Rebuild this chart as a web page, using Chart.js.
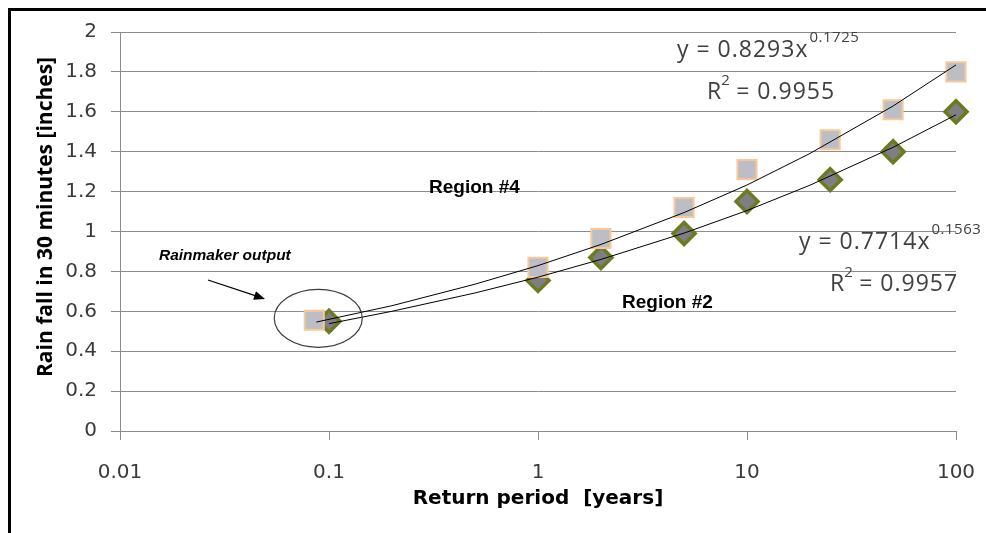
<!DOCTYPE html>
<html>
<head>
<meta charset="utf-8">
<script src="https://cdn.jsdelivr.net/npm/chart.js@4.4.1/dist/chart.umd.min.js"></script>
<style>
  html, body { margin: 0; padding: 0; background: #ffffff; }
  #wrap { width: 986px; height: 533px; position: relative; }
  canvas { display: block; }
</style>
</head>
<body>
<div id="wrap"><canvas id="c" width="986" height="533"></canvas></div>
<script>
// ---- data ----
const xTickValues = [0.01, 0.1, 1, 10, 100];
const xTickLabels = ['0.01', '0.1', '1', '10', '100'];
const yTickLabels = ['0', '0.2', '0.4', '0.6', '0.8', '1', '1.2', '1.4', '1.6', '1.8', '2'];

const region4Periods = [0.085, 1, 2, 5, 10, 25, 50, 100];
const region4Rain    = [0.555, 0.82, 0.965, 1.12, 1.31, 1.46, 1.61, 1.80];

const region2Periods = [0.1, 1, 2, 5, 10, 25, 50, 100];
const region2Rain    = [0.55, 0.755, 0.87, 0.99, 1.15, 1.26, 1.40, 1.60];

// trend lines (power fits drawn in the picture)
const trend4Periods = [0.087, 0.2, 0.5, 1, 2, 5, 10, 20, 50, 100];
const trend4Rain    = [0.546, 0.628, 0.736, 0.829, 0.935, 1.095, 1.233, 1.391, 1.629, 1.835];
const trend2Periods = [0.1, 0.2, 0.5, 1, 2, 5, 10, 20, 50, 100];
const trend2Rain    = [0.538, 0.600, 0.692, 0.771, 0.860, 0.992, 1.105, 1.232, 1.422, 1.585];

const toXY = (xs, ys) => xs.map((x, i) => ({ x: x, y: ys[i] }));

const GRID = '#8c8c8c';
const TICKC = '#3a3a3a';

const decorPlugin = {
  id: 'decor',
  beforeDraw(chart) {
    const ctx = chart.ctx;
    ctx.save();
    ctx.fillStyle = '#ffffff';
    ctx.fillRect(0, 0, chart.width, chart.height);
    ctx.restore();
  },
  afterDraw(chart) {
    const ctx = chart.ctx;
    const xs = chart.scales.x, ys = chart.scales.y;
    ctx.save();

    // outer frame (left and top edges visible)
    ctx.strokeStyle = '#000000';
    ctx.lineWidth = 3;
    ctx.beginPath();
    ctx.moveTo(9.5, 600);
    ctx.lineTo(9.5, 9.5);
    ctx.lineTo(1100, 9.5);
    ctx.stroke();

    // y axis title
    ctx.save();
    ctx.translate(46, 217);
    ctx.rotate(-Math.PI / 2);
    ctx.fillStyle = '#000000';
    ctx.font = 'bold 21px "Open Sans"';
    ctx.textAlign = 'center';
    ctx.textBaseline = 'middle';
    ctx.fillText('Rain fall in 30 minutes [inches]', 0, 0);
    ctx.restore();

    // equations
    ctx.fillStyle = '#404040';
    ctx.textAlign = 'left';
    ctx.textBaseline = 'alphabetic';
    const drawEq = (main, sup, x, y) => {
      ctx.font = '23px "Open Sans"';
      ctx.letterSpacing = '1px';
      ctx.fillText(main, x, y);
      const w = ctx.measureText(main).width;
      ctx.font = '15px "Open Sans"';
      ctx.letterSpacing = '0.5px';
      ctx.fillText(sup, x + w + 1, y - 15);
      ctx.letterSpacing = '0px';
    };
    const drawR2 = (val, x, y) => {
      ctx.font = '23px "Open Sans"';
      ctx.letterSpacing = '1px';
      ctx.fillText('R', x, y);
      const w = ctx.measureText('R').width;
      ctx.font = '15px "Open Sans"';
      ctx.fillText('2', x + w - 1, y - 14);
      ctx.font = '23px "Open Sans"';
      ctx.fillText(' = ' + val, x + w + 7, y);
      ctx.letterSpacing = '0px';
    };
    drawEq('y = 0.8293x', '0.1725', 677, 57);
    drawR2('0.9955', 707, 99);
    drawEq('y = 0.7714x', '0.1563', 799, 249);
    drawR2('0.9957', 830, 291);

    // region labels
    ctx.fillStyle = '#000000';
    ctx.font = 'bold 19px "Liberation Sans"';
    ctx.fillText('Region #4', 429, 193);
    ctx.fillText('Region #2', 622, 308);
    ctx.font = 'italic bold 15.5px "Liberation Sans"';
    ctx.fillText('Rainmaker output', 159, 260);

    // arrow
    ctx.strokeStyle = '#000000';
    ctx.lineWidth = 1.3;
    const ax0 = 208, ay0 = 280, ax1 = 265, ay1 = 299;
    const ang = Math.atan2(ay1 - ay0, ax1 - ax0);
    ctx.beginPath();
    ctx.moveTo(ax0, ay0);
    ctx.lineTo(ax1 - 8 * Math.cos(ang), ay1 - 8 * Math.sin(ang));
    ctx.stroke();
    ctx.fillStyle = '#000000';
    ctx.beginPath();
    ctx.moveTo(ax1, ay1);
    ctx.lineTo(ax1 - 11 * Math.cos(ang) + 4.5 * Math.sin(ang), ay1 - 11 * Math.sin(ang) - 4.5 * Math.cos(ang));
    ctx.lineTo(ax1 - 11 * Math.cos(ang) - 4.5 * Math.sin(ang), ay1 - 11 * Math.sin(ang) + 4.5 * Math.cos(ang));
    ctx.closePath();
    ctx.fill();

    // ellipse around the Rainmaker output points
    const cx = xs.getPixelForValue(region4Periods[0]) + 4;
    const cy = ys.getPixelForValue(region4Rain[0]) - 2;
    ctx.strokeStyle = '#3c3c3c';
    ctx.lineWidth = 1.2;
    ctx.beginPath();
    ctx.ellipse(cx, cy, 44, 29, 0, 0, Math.PI * 2);
    ctx.stroke();

    ctx.restore();
  }
};

new Chart(document.getElementById('c'), {
  type: 'scatter',
  data: {
    datasets: [
      {
        label: 'Trend Region #4',
        data: toXY(trend4Periods, trend4Rain),
        showLine: true,
        borderColor: '#000000',
        borderWidth: 1,
        pointRadius: 0,
        fill: false,
        tension: 0,
        clip: false
      },
      {
        label: 'Trend Region #2',
        data: toXY(trend2Periods, trend2Rain),
        showLine: true,
        borderColor: '#000000',
        borderWidth: 1,
        pointRadius: 0,
        fill: false,
        tension: 0,
        clip: false
      },
      {
        label: 'Region #4',
        data: toXY(region4Periods, region4Rain),
        pointStyle: 'rect',
        pointRadius: 13.5,
        backgroundColor: '#bdbdc6',
        borderColor: '#f6c89a',
        borderWidth: 2,
        clip: false
      },
      {
        label: 'Region #2',
        data: toXY(region2Periods, region2Rain),
        pointStyle: 'rectRot',
        pointRadius: 11,
        backgroundColor: '#7e7e84',
        borderColor: '#6d7a1f',
        borderWidth: 3.5,
        clip: false
      }
    ]
  },
  options: {
    responsive: false,
    animation: false,
    devicePixelRatio: 1,
    layout: { padding: { left: 0, right: 30, top: 32, bottom: 0 } },
    plugins: {
      legend: { display: false },
      tooltip: { enabled: false }
    },
    scales: {
      x: {
        type: 'logarithmic',
        min: 0.01,
        max: 100,
        afterBuildTicks(scale) {
          scale.ticks = xTickValues.map(v => ({ value: v, major: true }));
        },
        afterFit(scale) {
          scale.height = 102;
          scale.paddingLeft = 0;
          scale.paddingRight = 0;
        },
        ticks: {
          autoSkip: false,
          maxRotation: 0,
          padding: 21,
          color: TICKC,
          font: { family: '"DejaVu Sans"', size: 20 },
          callback: (v, i) => xTickLabels[i]
        },
        grid: {
          drawOnChartArea: false,
          drawTicks: true,
          tickLength: 9,
          color: GRID,
          lineWidth: 1
        },
        border: { display: true, color: GRID, width: 1 },
        title: {
          display: true,
          text: 'Return period  [years]',
          color: '#000000',
          font: { family: '"DejaVu Sans"', size: 20, weight: 'bold' },
          padding: { top: 0, bottom: 22 }
        }
      },
      y: {
        type: 'linear',
        min: 0,
        max: 2,
        afterFit(scale) {
          scale.width = 120;
          scale.paddingTop = 0;
          scale.paddingBottom = 0;
        },
        ticks: {
          stepSize: 0.2,
          padding: 14,
          color: TICKC,
          font: { family: '"DejaVu Sans"', size: 20 },
          callback: (v, i) => yTickLabels[i]
        },
        grid: {
          color: GRID,
          lineWidth: 1,
          tickLength: 9
        },
        border: { display: true, color: GRID, width: 1 }
      }
    }
  },
  plugins: [decorPlugin]
});
</script>
</body>
</html>
